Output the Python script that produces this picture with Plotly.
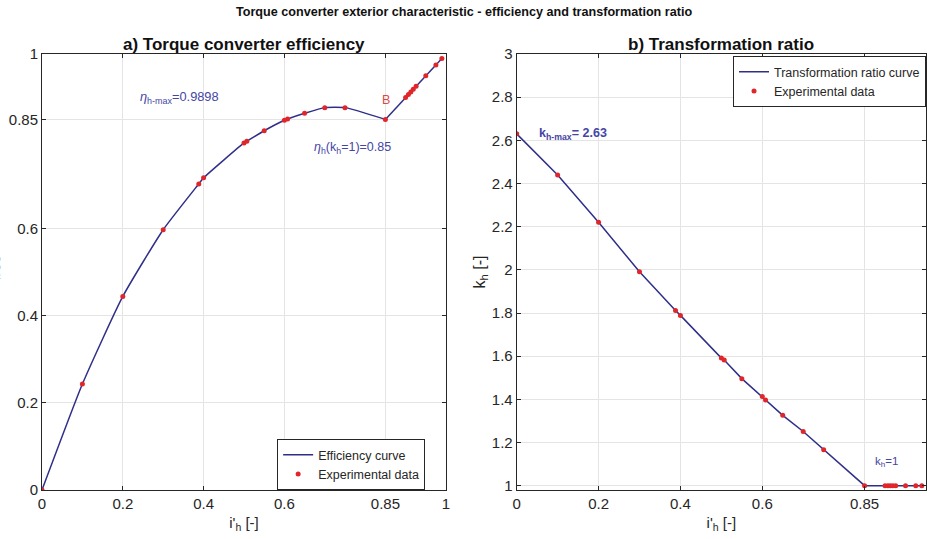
import plotly.graph_objects as go

# Speed ratio i'_h of the measured operating points
i_h = [0.0, 0.1, 0.2, 0.3, 0.388, 0.4, 0.5, 0.507, 0.55, 0.6, 0.608, 0.65,
       0.7, 0.75, 0.85, 0.9, 0.907, 0.913, 0.919, 0.926, 0.95, 0.975, 0.9898]
# Efficiency eta_h at those points
eta_h = [0.0, 0.243, 0.444, 0.597, 0.702, 0.716, 0.796, 0.80, 0.824, 0.848,
         0.851, 0.864, 0.877, 0.877, 0.85, 0.90, 0.907, 0.913, 0.919, 0.926,
         0.95, 0.975, 0.9898]
# Transformation ratio k_h at those points
k_h = [2.63, 2.439, 2.22, 1.991, 1.812, 1.789, 1.591, 1.582, 1.496, 1.413,
       1.397, 1.326, 1.251, 1.166, 1.0, 1.0, 1.0, 1.0, 1.0, 1.0, 1.0, 1.0, 1.0]

# Coupling point (k_h = 1) where the converter turns into a clutch
i_coupling = 0.85

x_ticks = [0, 0.2, 0.4, 0.6, 0.85, 1]
x_tick_text = ["0", "0.2", "0.4", "0.6", "0.85", "1"]
eta_ticks = [0, 0.2, 0.4, 0.6, 0.85, 1]
eta_tick_text = ["0", "0.2", "0.4", "0.6", "0.85", "1"]
k_ticks = [1, 1.2, 1.4, 1.6, 1.8, 2, 2.2, 2.4, 2.6, 2.8, 3]
k_tick_text = ["1", "1.2", "1.4", "1.6", "1.8", "2", "2.2", "2.4", "2.6", "2.8", "3"]

LINE = "#2f2f8a"
DOT = "#e0262b"
NOTE = "#4545a5"
FONT = "Liberation Sans, Arial, sans-serif"

# converter range (smooth) and clutch range (straight) of the efficiency curve
conv = [j for j, v in enumerate(i_h) if v <= i_coupling]
clut = [j for j, v in enumerate(i_h) if v >= i_coupling]

fig = go.Figure()

fig.add_trace(go.Scatter(x=[i_h[j] for j in conv], y=[eta_h[j] for j in conv],
                         mode="lines", name="Efficiency curve",
                         line=dict(color=LINE, width=1.5, shape="spline", smoothing=0.5),
                         xaxis="x", yaxis="y", legend="legend", legendgroup="eff"))
fig.add_trace(go.Scatter(x=[i_h[j] for j in clut], y=[eta_h[j] for j in clut],
                         mode="lines", name="Efficiency curve", showlegend=False,
                         line=dict(color=LINE, width=1.5),
                         xaxis="x", yaxis="y", legend="legend", legendgroup="eff"))
fig.add_trace(go.Scatter(x=i_h, y=eta_h, mode="markers", name="Experimental data",
                         marker=dict(color=DOT, size=5), xaxis="x", yaxis="y",
                         legend="legend"))
fig.add_trace(go.Scatter(x=i_h, y=k_h, mode="lines", name="Transformation ratio curve",
                         line=dict(color=LINE, width=1.5), xaxis="x2", yaxis="y2",
                         legend="legend2"))
fig.add_trace(go.Scatter(x=i_h, y=k_h, mode="markers", name="Experimental data",
                         marker=dict(color=DOT, size=5), xaxis="x2", yaxis="y2",
                         legend="legend2"))

axis_common = dict(showgrid=True, gridcolor="#e4e4e4", gridwidth=1,
                   showline=True, linecolor="#262626", linewidth=1, mirror="ticks",
                   ticks="inside", ticklen=4, tickcolor="#262626", automargin=False,
                   zeroline=False, tickfont=dict(size=15, color="#262626", family=FONT))

fig.update_layout(
    width=927, height=539,
    margin=dict(l=42, r=1, t=54, b=49),
    paper_bgcolor="white", plot_bgcolor="white",
    font=dict(family=FONT, color="#262626"),
    xaxis=dict(domain=[0, 0.457], range=[0, 1], tickvals=x_ticks, ticktext=x_tick_text,
               title=dict(text="i'<sub>h</sub> [-]", font=dict(size=15), standoff=6),
               anchor="y", **axis_common),
    yaxis=dict(domain=[0, 1], range=[0, 1], tickvals=eta_ticks, ticktext=eta_tick_text,
               anchor="x", **axis_common),
    xaxis2=dict(domain=[0.537, 1], range=[0, 1], tickvals=x_ticks, ticktext=x_tick_text,
                title=dict(text="i'<sub>h</sub> [-]", font=dict(size=15), standoff=6),
                anchor="y2", **axis_common),
    yaxis2=dict(domain=[0, 1], range=[0.98, 3], tickvals=k_ticks, ticktext=k_tick_text,
                title=dict(text="k<sub>h</sub> [-]", font=dict(size=16), standoff=2),
                anchor="x2", **axis_common),
    legend=dict(x=0.266, y=0, xanchor="left", yanchor="bottom",
                bgcolor="white", bordercolor="#262626", borderwidth=1, itemwidth=30,
                font=dict(size=12.5, color="#262626"), tracegroupgap=0),
    legend2=dict(x=1, y=0.995, xanchor="right", yanchor="top",
                 bgcolor="white", bordercolor="#262626", borderwidth=1, itemwidth=30,
                 font=dict(size=12.5, color="#262626"), tracegroupgap=0),
    showlegend=True,
)

annotations = [
    dict(text="<b>Torque converter exterior characteristic - efficiency and transformation ratio</b>",
         xref="paper", yref="paper", x=0.477, y=1.0 + 42 / 436, xanchor="center",
         yanchor="middle", showarrow=False, font=dict(size=12.6, color="#111111")),
    dict(text="<b>a) Torque converter efficiency</b>", xref="x domain", yref="y domain",
         x=0.5, y=1.0 + 10 / 436, xanchor="center", yanchor="middle", showarrow=False,
         font=dict(size=17, color="#111111")),
    dict(text="<b>b) Transformation ratio</b>", xref="x2 domain", yref="y2 domain",
         x=0.5, y=1.0 + 10 / 436, xanchor="center", yanchor="middle", showarrow=False,
         font=dict(size=17, color="#111111")),
    # efficiency axis label, sitting at the very left edge of the page
    dict(text="<i>η</i><sub>h</sub> [-]", xref="paper", yref="paper",
         x=-50 / 884, y=0.5, xanchor="center", yanchor="middle", textangle=-90,
         showarrow=False, font=dict(size=15, color="#262626")),
    dict(text="<i>η</i><sub>h-max</sub>=0.9898", xref="x", yref="y", x=0.237, y=0.9,
         xanchor="left", yanchor="middle", showarrow=False,
         font=dict(size=12.8, color=NOTE)),
    dict(text="B", xref="x", yref="y", x=0.852, y=0.895, xanchor="center",
         yanchor="middle", showarrow=False, font=dict(size=12.5, color="#d84848")),
    dict(text="<i>η</i><sub>h</sub>(k<sub>h</sub>=1)=0.85", xref="x", yref="y",
         x=0.668, y=0.785, xanchor="left", yanchor="middle", showarrow=False,
         font=dict(size=12.5, color=NOTE)),
    dict(text="<b>k<sub>h-max</sub>= 2.63</b>", xref="x2", yref="y2", x=0.05, y=2.63,
         xanchor="left", yanchor="middle", showarrow=False,
         font=dict(size=12.5, color=NOTE)),
    dict(text="k<sub>h</sub>=1", xref="x2", yref="y2", x=0.87, y=1.11,
         xanchor="left", yanchor="middle", showarrow=False,
         font=dict(size=11.5, color=NOTE)),
]
fig.update_layout(annotations=annotations)

fig.write_html("out.html")
